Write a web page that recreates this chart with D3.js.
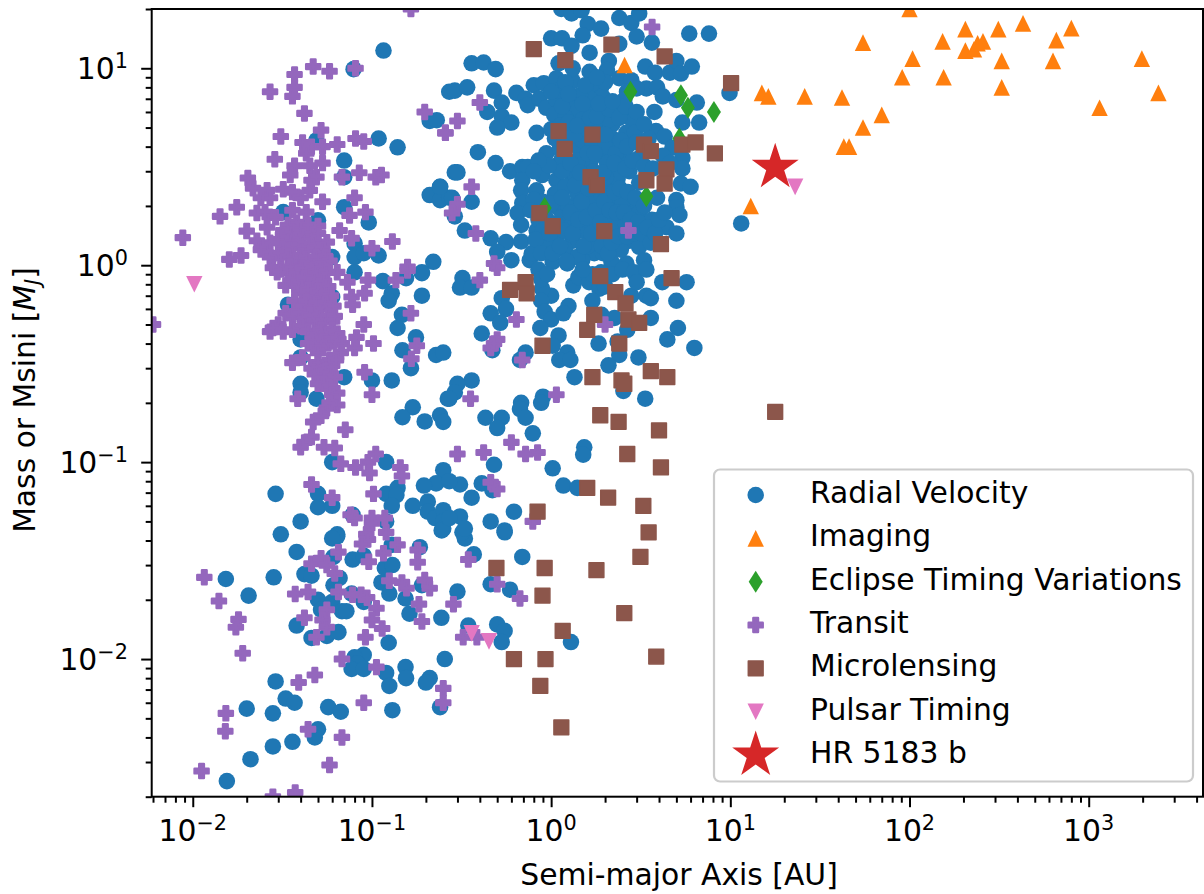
<!DOCTYPE html>
<html lang="en">
<head>
<meta charset="UTF-8">
<title>Exoplanet mass vs semi-major axis</title>
<script src="https://d3js.org/d3.v7.min.js"></script>
<style>
    body { margin: 0; background: #fff; }
    text { font-family: "DejaVu Sans", sans-serif; fill: #000; }
    .domain { display: none; }
    .tick line { stroke: #000; stroke-width: 2; }
</style>
</head>
<body>
<svg width="1204" height="894"></svg>
<script>
// [semi-major axis AU, mass Mjup]
const imaging = [[100,20],[55,13.5],[153,13.7],[205,15.8],[313,15.8],[430,16.9],[800,16],[660,13.9],[632,10.9],[1980,11.2],[327,10.9],[327,8],[104,11.2],[91,9],[155,9],[205,12.3],[229,12.5],[257,13.7],[240,13.4],[2450,7.5],[1150,6.3],[70,5.8],[55,5],[43,4],[46,4],[42,7.1],[26,7.2],[15,7.5],[16.3,7.2],[13,2],[2.57,10.4]];
const eclipse = [[2.77,7.6],[5.3,7.3],[5.8,6.3],[8.1,6],[5.2,4.4],[3.4,2.24],[0.92,1.95]];
const microlensing = [[0.8,12.5],[1.2,11],[2.17,13.2],[4.3,11.5],[10.1,8.4],[1.1,4.8],[1.7,4.6],[1.19,3.9],[3.3,4.1],[3.6,3.8],[5.4,4.1],[6.4,4.2],[8.2,3.7],[4.4,3.07],[1.66,2.8],[1.8,2.55],[3.4,2.7],[4.3,2.6],[0.86,1.84],[1.02,1.58],[1.98,1.49],[4.1,1.28],[1.88,0.88],[0.72,0.82],[0.59,0.75],[0.73,0.72],[4.7,0.86],[2.28,0.73],[2.6,0.64],[1.74,0.56],[1.59,0.47],[2.7,0.53],[3.1,0.51],[2.4,0.4],[0.895,0.39],[1.7,0.27],[2.47,0.26],[2.56,0.25],[3.6,0.29],[4.45,0.27],[1.88,0.173],[2.38,0.16],[4,0.145],[2.66,0.11],[4.1,0.094],[1.59,0.074],[2.08,0.066],[3.27,0.06],[0.84,0.056],[3.5,0.044],[17.8,0.18],[0.495,0.029],[0.92,0.029],[0.895,0.021],[1.16,0.0139],[0.62,0.01],[0.93,0.01],[0.87,0.0073],[1.14,0.0045],[1.79,0.0283],[3.15,0.033],[2.56,0.0171],[3.86,0.0103]];
const pulsar = [[0.0102,0.8],[23,2.5],[0.36,0.0135],[0.45,0.0123]];
const hr5183 = [[17.8,3.14]];

const radialVelocity = [
  [0.116,12.3],[0.079,9.9],[0.049,4.3],[0.109,4.4],[0.139,3.97],[0.07,3.4],[0.07,2.8],[0.21,5.4],[0.23,5.45],[0.27,7.6],[0.21,2.27],[0.24,2.5],[0.24,2.14],[0.27,2.2],[0.29,2.96],[0.07,1.97],[0.032,1.86],[0.05,1.69],[0.096,1.65],[0.04,1.56],[0.08,1.29],[0.08,1.1],[0.09,1.15],[0.109,1.12],[0.22,1.04],[0.19,0.92],[0.06,1.1],
  [0.08,0.92],[0.115,0.83],[0.155,0.86],[0.19,0.91],[0.129,0.72],[0.124,0.66],[0.19,0.7],[0.147,0.56],[0.139,0.48],[0.176,0.43],[0.148,0.37],[0.228,0.35],[0.25,0.36],[0.165,0.3],[0.07,0.27],[0.1,0.26],[0.129,0.26],[0.04,0.25],[0.04,0.226],[0.049,0.21],[0.034,0.63],[0.04,0.42],[0.04,0.34],[0.06,0.69],[0.265,0.21],[0.169,0.19],[0.148,0.169],[0.197,0.161],[0.24,0.173],[0.25,0.16],[0.06,0.1],[0.12,0.1],[0.25,0.091],[0.228,0.078],[0.195,0.076],[0.029,0.069],[0.05,0.069],[0.12,0.069],[0.139,0.074],[0.137,0.068],[0.05,0.059],[0.06,0.06],[0.129,0.06],[0.169,0.06],[0.205,0.063],[0.205,0.056],[0.225,0.052],[0.25,0.057],[0.25,0.05],[0.04,0.05],[0.031,0.043],[0.078,0.054],[0.12,0.05],[0.25,0.046],[0.064,0.043],
  [0.064,0.042],[0.06,0.041],[0.038,0.035],[0.061,0.033],[0.078,0.032],[0.09,0.0335],[0.129,0.038],[0.185,0.037],[0.118,0.029],[0.13,0.03],[0.37,0.034],[0.55,0.044],[0.69,0.033],[0.33,0.041],[0.32,0.044],[0.245,0.045],[0.0153,0.0255],[0.0205,0.021],[0.0283,0.026],[0.042,0.027],[0.046,0.0265],[0.061,0.0237],[0.066,0.0258],[0.05,0.02],[0.052,0.0178],[0.06,0.0195],[0.068,0.0175],[0.072,0.0175],[0.077,0.0215],[0.09,0.0195],[0.113,0.0245],[0.125,0.0215],[0.154,0.0203],[0.162,0.017],[0.19,0.0237],[0.3,0.022],[0.244,0.0162],[0.345,0.0148],[0.46,0.024],[0.59,0.0225],[0.5,0.015],[0.55,0.0139],[0.53,0.0122],[1.29,0.0122],[0.038,0.0148],[0.046,0.0128],[0.056,0.0131],[0.065,0.0137],[0.124,0.0121],[0.09,0.0105],[0.08,0.0102],[0.083,0.0095],[0.077,0.0089],[0.09,0.0089],[0.12,0.0085],[0.154,0.0091],[0.155,0.008],[0.125,0.0073],[0.21,0.008],[0.2,0.0076],[0.255,0.01],[0.029,0.0077],[0.033,0.0063],[0.037,0.006],[0.02,0.0056],[0.028,0.0053],[0.057,0.0057],[0.067,0.0054],[0.13,0.0055],[0.24,0.0057],[0.05,0.0044],[0.048,0.004],[0.036,0.0038],[0.028,0.0036],[0.021,0.0031],[0.0155,0.0024],
  [0.32,0.86],[0.31,0.77],[0.36,0.77],[0.53,0.68],[0.56,0.6],[0.46,0.57],[0.52,0.51],[0.41,0.45],[0.47,0.37],[0.67,0.33],[0.72,0.36],[1,0.7],[0.89,0.76],[0.88,0.66],[0.92,0.58],[1,0.53],[0.87,0.48],[1.1,0.44],[1.02,0.39],[1.23,0.36],[1.11,0.33],[1.28,0.33],[1.25,0.62],[1.17,0.57],[1.33,0.79],[1.42,0.87],[1.63,0.82],[1.86,0.76],[1.7,0.66],[2.26,0.54],[1.91,0.56],[2.66,0.47],[1.84,0.4],[2.4,0.35],[2.09,0.31],[3.07,0.34],[1.35,0.27],[2.53,0.23],[3.35,0.21],[4.17,0.82],[5.7,0.82],[2.8,0.7],[3.4,0.7],[3.6,0.68],[5,0.66],[3.6,0.54],[5.1,0.48],[4.45,0.42],[6.3,0.38],[2.35,0.41],
  [0.36,0.26],[0.3,0.25],[0.29,0.226],[0.27,0.21],[0.68,0.2],[0.67,0.186],[0.72,0.168],[0.9,0.215],[0.88,0.2],[0.43,0.168],[0.53,0.168],[0.5,0.149],[0.79,0.14],[1.53,0.119],[1.51,0.109],[1.02,0.093],[1.17,0.076],[1.4,0.074],[0.48,0.097],[0.31,0.077],[0.27,0.08],[0.41,0.078],[0.47,0.072],[0.36,0.066],[0.62,0.056],[0.31,0.053],[0.27,0.052],[0.46,0.05],[0.33,0.046],[0.55,0.045],
  [1.14,20],[1.3,19],[1.48,19.7],[2.4,18],[2.8,17],[3.1,19],[1.6,16.8],[1.9,15.9],[1.5,14.7],[1,14.2],[1.15,14.2],[1.3,13],[2.4,13.3],[3,14.5],[3.65,13.5],[1.64,12],[5.9,15],[7.6,15],[0.36,10.6],[0.42,10.7],[0.49,9.9],[0.29,7.7],[0.34,8],[0.48,7.7],[0.64,7.5],[0.8,8.2],[0.91,8.4],[1.1,10.6],[1.07,8.9],[1.32,8.6],[1.32,10],[1.64,9.6],[2.1,10.9],[2.05,9.8],[2.4,8.9],[2.8,8.7],[3.35,10.2],[3.8,9.5],[4.6,9.5],[5,10.9],[5.3,9.4],[6.1,10.2],[3.4,7.9],[3.9,8],[4.2,7.2],[5,6.9],[6.5,6.7],[9.9,7.5],[1.7,7.9],[1.9,8],[1.93,7.2],[2.56,6.9],[0.53,6.7],[0.44,6],[0.53,5.7],[0.6,5.3],[0.5,5],[0.72,7],[0.74,6.5],[0.86,7],[0.94,6.3],[1.07,6.9],[1.04,5.8],[1.3,6.6],[1.41,6.1],[1.63,6.1],[1.98,6.3],[2.3,6],[2.73,5.9],[2.85,5.4],[3.77,6],[5.4,5.3],[6.7,5.3],[0.83,4.7],[1.3,4.2],[2.2,5.2],[1.93,5],[2.63,4.7],[2.93,4.7],[3.85,4.8],[4.3,4.5],
  [0.39,3.75],[0.49,3.3],[0.94,3.7],[1.12,3.9],[1.44,3.9],[1.93,3.6],[2.5,3.95],[2.5,3.4],[4.75,3.95],[5.4,3.5],[5.4,3.1],[3.1,3.5],[0.59,3],[0.69,3.15],[0.74,3.15],[0.3,2.96],[1.07,3.2],[1.22,3.15],[2.2,3],[2.73,3],[0.69,2.7],[0.89,2.87],[1.07,2.7],[1.32,2.7],[1.63,2.4],[2,2.4],[2.4,2.3],[3.1,2.63],[5.3,2.6],[6,2.5],[0.68,2.4],[0.83,2.4],[0.36,2.1],[0.53,1.95],[0.28,2.2],[0.24,2.5],[0.29,1.77],[0.69,2.07],[1.11,2.14],[1.44,2.14],[2.8,1.97],[3.9,2.2],[5,2.14],[5,1.97],[5.2,1.8],[0.65,1.84],[0.68,1.6],[0.83,1.5],[1.32,1.75],[1.63,1.84],[2.3,1.75],[3.1,1.84],[3.65,1.7],[4.4,1.56],[5,1.45],[11.5,1.63],[0.33,1.5],[0.46,1.37],[0.56,1.31],[0.68,1.32],[1.07,1.33],[1.32,1.33],[1.57,1.5],[2.73,1.33],[3.1,1.24],[1.74,1.15],[0.5,1.17],[0.6,1.06],[0.76,1.06],[1.02,1.04],[1.23,1.02],[1.49,1.06],[2.17,1.04],[2.63,1.02],[3.3,1.06],
  // solid core of the cloud
  [1.05,2.3],[1.1,1.95],[1.15,1.75],[1.2,2.5],[1.25,2],[1.3,1.6],[1.35,2.9],[1.4,2.3],[1.45,1.95],[1.5,1.5],[1.55,2.75],[1.6,1.25],[1.65,3.3],[1.7,2.1],[1.75,1.65],[1.8,2.9],[1.85,1.4],[1.9,2.3],[1.95,1.15],[2,1.75],[2.05,3.3],[2.1,1.45],[2.15,2.6],[2.2,2],[2.3,1.55],[2.35,2.75],[2.45,1.2],[2.5,2.1],[2.6,1.65],[1.1,1.45],[1.2,1.2],[1.4,1.1],[1.15,3.5],[1.4,3.4],[1.5,4.3],[1.7,4.3],[1.85,5.1],[1.25,4.9],[1.05,4.4],[0.95,1.7],[0.9,2.1],[0.85,1.7],[0.8,2.15],[0.95,1.25],[0.9,1.5],[0.77,1.9],[2.2,4.4],[2,4],[2.3,3.7],[1.5,5.5],[1.2,5.6],[1.65,7],[1.45,7.3],[2.1,5.5],[1.1,7.7],[1.2,8.5],[2,8.5],[0.85,0.95],[0.88,0.85],[0.95,0.9],[1.9,0.92],[2.2,0.9],[2.5,0.95],[2.9,0.92],[1.7,0.9],[1.5,0.95],[3.4,0.95],[3,0.82],[2,0.78],
  [0.78,1.15],[0.82,1.35],[0.88,1.15],[0.92,1.85],[0.98,1.45],[1,2.05],[1.02,1.15],[1.08,1.6],[1.12,1.25],[1.15,2.2],[1.18,1.5],[1.22,1.05],[1.28,1.85],[1.32,1.45],[1.36,2.55],[1.42,1.7],[1.48,2.1],[1.52,1.25],[1.58,1.75],[1.62,2.45],[1.68,1.45],[1.72,3],[1.78,1.9],[1.82,2.5],[1.88,1.65],[1.92,1.25],[1.98,2.1],[2.02,2.8],[2.08,1.15],[2.12,1.9],[2.18,1.3],[2.25,2.35],[2.32,1.85],[2.38,1.4],[2.42,2.45],[2.55,1.85],[2.65,1.4],[2.68,2.35],[2.78,1.7],[2.9,1.45],[2.95,2.2],[3.05,1.65],[3.2,1.45],[3.3,2],[3.45,1.55],[3.6,1.3],[3.8,1.45],[4,1.7],[4.3,1.85],[1.15,3],[1.28,3.3],[1.45,2.95],[1.6,3.7],[1.75,3.7],[1.95,2.95],[2.25,3.3],[2.6,3.1],[2.85,3.4],[3.3,3.2],[3.7,3.1],[4.2,3.6],[4.6,3.3],[0.97,3.2],[0.85,3.4],[0.8,3],
  [1,4.9],[1.18,4.2],[1.35,4.6],[1.6,4.9],[1.75,5.3],[2,4.6],[2.45,4.3],[2.65,4],[3,4.2],[3.5,4.4],[1.12,5.1],[1.25,5.3],[1.4,5.1],[1.65,5.6],[1.8,5.7],[2.1,6.2],[2.4,5.6],[2.6,6.4],[3,6],[3.3,5.2],[1.15,6.4],[1.5,6.6],[1.85,6.6],[2.2,6.8],[2.65,7.6],[3,7.9],[1.25,7.4],[1.55,8.2],[1.8,9],[1,7.6]
];

const transit = [
  [0.165,20],[0.081,10],[0.058,9.65],[0.047,10.2],[0.037,9.3],[0.037,8],[0.036,7.2],[0.027,7.6],[0.042,5.9],[0.052,4.85],[0.031,4.5],[0.041,4.2],[0.046,4],[0.053,4],[0.064,4.1],[0.081,4.4],[0.09,4.25],[0.197,6],[0.257,4.7],[0.043,3.7],[0.0287,3.45],[0.053,3.3],[0.037,3.2],[0.045,3.2],[0.035,2.87],[0.068,2.8],[0.085,2.95],[0.105,2.8],[0.113,2.87],[0.0203,2.77],[0.046,2.7],[0.049,2.8],[0.0217,2.46],[0.026,2.4],[0.032,2.43],[0.036,2.35],[0.045,2.4],[0.024,2.2],[0.027,2.2],[0.04,2.2],[0.053,2.1],[0.08,2.2],[0.0176,1.97],[0.0142,1.77],[0.0228,1.84],[0.0253,1.86],[0.036,1.9],[0.043,1.86],[0.075,1.79],[0.092,1.86],[0.029,1.75],[0.026,1.56],[0.032,1.5],[0.05,1.58],[0.02,1.49],[0.066,1.5],[0.077,1.37],[0.13,1.32],[0.0088,1.38],[0.1,1.22],[0.0228,1.33],[0.036,1.33],[0.056,1.31],[0.0253,1.22],[0.041,1.24],[0.032,1.19],[0.0186,1.12],[0.016,1.07],[0.027,1.1],[0.036,1.1],[0.049,1.1],[0.158,0.98],[0.031,0.97],[0.028,0.97],[0.043,0.98],
  [0.0296,0.92],[0.035,0.92],[0.043,0.92],[0.064,0.92],[0.073,0.82],[0.095,0.84],[0.136,0.84],[0.158,0.94],[0.033,0.79],[0.037,0.79],[0.045,0.8],[0.052,0.76],[0.077,0.69],[0.091,0.72],[0.078,0.63],[0.165,0.57],[0.09,0.5],[0.027,0.46],[0.082,0.43],[0.102,0.4],[0.178,0.39],[0.08,0.38],[0.166,0.335],[0.036,0.32],[0.041,0.34],[0.091,0.286],[0.1,0.22],[0.0385,0.21],[0.064,0.224],[0.064,0.195],[0.071,0.146],[0.056,0.188],[0.052,0.172],[0.047,0.16],[0.046,0.134],[0.042,0.126],[0.04,0.119],[0.054,0.119],[0.062,0.118],[0.067,0.098],[0.081,0.094],[0.095,0.1],[0.105,0.11],[0.097,0.088],[0.144,0.094],[0.147,0.085],[0.046,0.077],[0.06,0.066],[0.102,0.069],[0.076,0.054],[0.08,0.052],[0.1,0.052],[0.118,0.052],[0.1,0.049],[0.12,0.044],[0.093,0.043],
  // dense hot-Jupiter clump
  [0.033,1.3],[0.036,1.25],[0.039,1.3],[0.042,1.2],[0.045,1.28],[0.048,1.22],[0.05,1.3],[0.053,1.2],[0.03,1.15],[0.034,1.1],[0.037,1.05],[0.04,1.12],[0.043,1.08],[0.046,1.02],[0.049,1.1],[0.052,1.04],[0.055,1.1],[0.058,1.05],[0.031,0.95],[0.035,0.98],[0.038,0.92],[0.041,0.97],[0.044,0.9],[0.047,0.95],[0.05,0.9],[0.053,0.96],[0.056,0.92],[0.036,0.85],[0.039,0.82],[0.042,0.86],[0.048,0.84],[0.051,0.8],[0.054,0.83],[0.057,0.78],[0.041,0.72],[0.044,0.75],[0.047,0.7],[0.05,0.74],[0.053,0.69],[0.056,0.72],[0.059,0.7],[0.037,0.66],[0.04,0.62],[0.043,0.65],[0.046,0.6],[0.049,0.64],[0.052,0.61],[0.055,0.64],[0.058,0.6],[0.061,0.62],[0.033,0.57],[0.036,0.55],[0.039,0.58],[0.042,0.53],[0.045,0.56],[0.048,0.52],[0.051,0.55],[0.054,0.52],[0.057,0.55],[0.06,0.52],[0.062,0.55],[0.03,0.5],[0.028,0.48],[0.032,0.46],[0.036,0.47],[0.04,0.49],[0.044,0.46],[0.048,0.44],[0.052,0.47],[0.056,0.45],[0.06,0.47],[0.064,0.45],[0.044,0.4],[0.047,0.42],[0.05,0.38],[0.053,0.41],[0.057,0.4],[0.061,0.41],[0.065,0.42],[0.068,0.4],[0.05,0.36],[0.067,0.36],[0.046,0.3],[0.05,0.32],[0.054,0.3],[0.058,0.33],[0.06,0.31],[0.063,0.33],[0.048,0.28],[0.052,0.27],[0.055,0.29],[0.059,0.28],[0.062,0.27],[0.05,0.25],[0.054,0.25],[0.058,0.24],[0.06,0.22],[0.058,0.2],[0.024,1.2],[0.027,1.3],[0.03,1.35],[0.034,1.45],[0.037,1.5],[0.04,1.42],[0.043,1.5],[0.046,1.4],[0.05,1.45],[0.034,1.6],[0.038,1.65],[0.04,1.55],[0.044,1.6],
  [0.0116,0.026],[0.014,0.0197],[0.018,0.0159],[0.0174,0.0145],[0.019,0.0107],[0.0153,0.0053],[0.0152,0.0043],[0.0112,0.0027],[0.028,0.002],[0.0373,0.0021],[0.0373,0.0214],[0.044,0.0219],[0.046,0.0305],[0.052,0.0325],[0.056,0.03],[0.062,0.0272],[0.065,0.0349],[0.065,0.0219],[0.078,0.0212],[0.087,0.0212],[0.094,0.0205],[0.106,0.0181],[0.056,0.0178],[0.053,0.0158],[0.042,0.0162],[0.056,0.0145],[0.049,0.0129],[0.092,0.0129],[0.1,0.0158],[0.114,0.0143],[0.068,0.01],[0.106,0.0091],[0.039,0.0076],[0.048,0.0083],[0.09,0.006],[0.25,0.0071],[0.25,0.006],[0.044,0.0044],[0.068,0.004],[0.058,0.0029],[0.095,0.0405],[0.088,0.0384],[0.139,0.038],[0.116,0.0345],[0.096,0.0312],[0.18,0.0358],[0.18,0.031],[0.345,0.032],[0.125,0.025],[0.147,0.0245],[0.156,0.0229],[0.197,0.0252],[0.21,0.0229],[0.183,0.019],[0.19,0.0155],[0.285,0.019],[0.5,0.024],[0.67,0.0203],[0.323,0.0129],[0.385,0.0129],
  [0.4,0.84],[0.5,0.97],[0.64,0.53],[0.5,0.42],[0.46,0.38],[0.48,0.4],[0.69,0.33],[2,0.5],[1.07,0.22],[0.355,0.21],[0.6,0.126],[0.72,0.11],[0.84,0.112],[0.42,0.112],[0.3,0.11],[0.46,0.079],[0.5,0.073],[0.79,0.05],
  [3.66,16.2],[0.4,6.7],[0.3,5.4],[0.257,4.7],[0.36,2.5],[0.3,2.04],[0.28,1.84],[0.38,1.45],[0.48,1.02],[2.7,1.5],[0.006,0.5]
];

const xMajor = [0.01, 0.1, 1, 10, 100, 1000];
const yMajor = [0.01, 0.1, 1, 10];
const xExponents = ["\u22122", "\u22121", "0", "1", "2", "3"];
const yExponents = ["\u22122", "\u22121", "0", "1"];
const legendLabels = ["Radial Velocity", "Imaging", "Eclipse Timing Variations", "Transit", "Microlensing", "Pulsar Timing", "HR 5183 b"];

const plotLeft = 151.7, plotRight = 1204, plotTop = 9, plotBottom = 796.7;
const x = d3.scaleLog().domain([0.0059, 4400]).range([plotLeft, plotRight]);
const y = d3.scaleLog().domain([0.002, 20]).range([plotBottom, plotTop]);

const svg = d3.select("svg");
svg.append("clipPath").attr("id", "plot").append("rect")
    .attr("x", plotLeft).attr("y", plotTop).attr("width", plotRight - plotLeft).attr("height", plotBottom - plotTop);

// marker shapes, same draw order as the legend
const shapes = {
    circle: { d: d3.symbol().type(d3.symbolCircle).size(215)(), color: "#1f77b4" },
    triangle: { d: "M0,-8.3L8.2,8.3L-8.2,8.3Z", color: "#ff7f0e" },
    diamond: { d: "M0,-11L7,0L0,11L-7,0Z", color: "#2ca02c" },
    plus: { d: d3.symbol().type(d3.symbolCross).size(110)(), color: "#9467bd", stroke: 2.4 },
    square: { d: d3.symbol().type(d3.symbolSquare).size(219)(), color: "#8c564b", stroke: 1.5 },
    down: { d: "M0,8.3L8.2,-8.3L-8.2,-8.3Z", color: "#e377c2" },
    star: { d: d3.symbol().type(d3.symbolStar).size(685)(), color: "#d62728" }
};
const series = [
    [radialVelocity, shapes.circle], [imaging, shapes.triangle], [eclipse, shapes.diamond],
    [transit, shapes.plus], [microlensing, shapes.square], [pulsar, shapes.down], [hr5183, shapes.star]
];

function marker(sel, shape) {
    sel.attr("d", shape.d).attr("fill", shape.color)
        .attr("stroke", shape.stroke ? shape.color : "none")
        .attr("stroke-width", shape.stroke || 0)
        .attr("stroke-linejoin", "round");
}

const plot = svg.append("g").attr("clip-path", "url(#plot)");
series.forEach(([data, shape]) => {
    plot.append("g").selectAll("path").data(data).enter().append("path")
        .attr("transform", d => `translate(${x(d[0])},${y(d[1])})`)
        .call(marker, shape);
});

// legend
const legend = svg.append("g");
legend.append("rect").attr("x", 714).attr("y", 469.5).attr("width", 479).attr("height", 312)
    .attr("rx", 6).attr("fill", "#fff").attr("fill-opacity", 0.8)
    .attr("stroke", "#ccc").attr("stroke-width", 2.2);
series.forEach(([data, shape], i) => {
    const cy = 495 + i * 43.35;
    legend.append("path").attr("transform", `translate(755.7,${cy})`).call(marker, shape);
    legend.append("text").attr("x", 810).attr("y", cy + 8)
        .attr("font-size", 29.8).text(legendLabels[i]);
});

// axes: minor ticks first, then the decades
function minors(lo, hi) {
    const out = [];
    for (let e = lo; e <= hi; e++) {
        for (let m = 2; m < 10; m++) out.push(m * Math.pow(10, e));
    }
    return out;
}
const xMinor = minors(-3, 3).filter(v => v >= x.domain()[0] && v <= x.domain()[1]);
const yMinor = minors(-3, 1).filter(v => v >= y.domain()[0] && v <= y.domain()[1]);

svg.append("g").attr("transform", `translate(0,${plotBottom})`)
    .call(d3.axisBottom(x).tickValues(xMinor).tickSize(6).tickFormat(""));
svg.append("g").attr("transform", `translate(0,${plotBottom})`)
    .call(d3.axisBottom(x).tickValues(xMajor).tickSize(10.5).tickFormat(""));
svg.append("g").attr("transform", `translate(${plotLeft},0)`)
    .call(d3.axisLeft(y).tickValues(yMinor).tickSize(6).tickFormat(""));
svg.append("g").attr("transform", `translate(${plotLeft},0)`)
    .call(d3.axisLeft(y).tickValues(yMajor).tickSize(10.5).tickFormat(""));

// tick labels as 10 + superscript
function powerLabel(sel, exp) {
    sel.attr("font-size", 29.8);
    sel.append("tspan").text("10");
    sel.append("tspan").attr("font-size", 20.8).attr("dy", -11.5).text(exp);
}
xMajor.forEach((v, i) => {
    svg.append("text").attr("x", x(v)).attr("y", 841).attr("text-anchor", "middle")
        .call(powerLabel, xExponents[i]);
});
yMajor.forEach((v, i) => {
    svg.append("text").attr("x", 128).attr("y", y(v) + 11).attr("text-anchor", "end")
        .call(powerLabel, yExponents[i]);
});

// spines
svg.append("rect").attr("x", plotLeft).attr("y", plotTop).attr("width", plotRight - plotLeft - 1).attr("height", plotBottom - plotTop)
    .attr("fill", "none").attr("stroke", "#000").attr("stroke-width", 2);

svg.append("text").attr("x", 679).attr("y", 885).attr("text-anchor", "middle")
    .attr("font-size", 29.8).text("Semi-major Axis [AU]");

const yLabel = svg.append("text").attr("transform", "translate(35,400) rotate(-90)")
    .attr("text-anchor", "middle").attr("font-size", 29.8);
yLabel.append("tspan").text("Mass or Msini [");
yLabel.append("tspan").attr("font-style", "italic").text("M");
yLabel.append("tspan").attr("font-style", "italic").attr("font-size", 20.8).attr("dy", 5).text("J");
yLabel.append("tspan").attr("dy", -5).text("]");
</script>
</body>
</html>
